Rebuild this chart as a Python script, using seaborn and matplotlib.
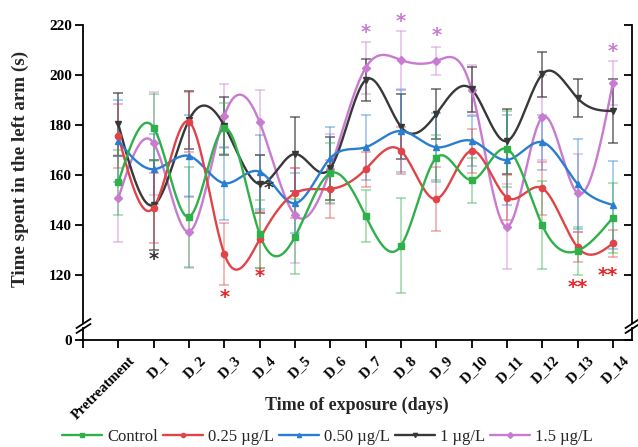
import numpy as np
import pandas as pd
import matplotlib
matplotlib.use("Agg")
import matplotlib.pyplot as plt
import seaborn as sns

# ---- data -------------------------------------------------------------
days = ["Pretreatment", "D_1", "D_2", "D_3", "D_4", "D_5", "D_6", "D_7",
        "D_8", "D_9", "D_10", "D_11", "D_12", "D_13", "D_14"]

control = [157.1, 178.9, 143.3, 178.7, 136.4, 135.3, 160.7, 143.6,
           131.7, 166.9, 158.0, 170.4, 139.9, 129.7, 143.0]
control_sem = [13.0, 13.4, 20.0, 10.2, 13.6, 15.0, 12.0, 10.5,
               19.0, 9.0, 9.0, 15.3, 17.6, 9.5, 14.0]

dose_025 = [175.6, 147.0, 181.3, 128.4, 134.3, 152.7, 154.4, 162.3,
            169.7, 150.4, 169.7, 151.0, 154.7, 131.1, 132.7]
dose_025_sem = [12.8, 14.0, 12.0, 12.4, 11.3, 10.0, 11.7, 7.0,
                9.4, 12.7, 8.7, 9.0, 10.6, 6.0, 5.4]

dose_050 = [173.6, 162.3, 167.6, 156.7, 161.3, 148.7, 166.7, 171.1,
            177.6, 171.1, 173.7, 166.0, 173.1, 156.4, 148.0]
dose_050_sem = [16.5, 14.0, 16.4, 14.6, 14.7, 12.0, 12.6, 13.0,
                16.4, 13.8, 10.0, 18.0, 11.0, 18.0, 17.6]

dose_1 = [180.3, 148.0, 182.0, 179.7, 156.4, 168.4, 162.7, 198.0,
          179.3, 184.4, 194.3, 173.6, 200.3, 190.7, 185.6]
dose_1_sem = [12.5, 18.0, 11.6, 11.7, 11.6, 14.7, 12.6, 8.5,
              13.0, 10.0, 9.0, 13.0, 9.0, 7.6, 12.7]

dose_15 = [150.7, 172.7, 137.3, 183.6, 181.1, 144.0, 162.3, 202.9,
           206.0, 205.6, 194.0, 139.3, 183.1, 152.7, 196.9]
dose_15_sem = [17.5, 20.6, 14.3, 12.7, 13.0, 19.0, 14.0, 10.4,
               11.6, 5.7, 10.0, 17.0, 17.0, 15.6, 8.8]

group_labels = ["Control", "0.25 µg/L", "0.50 µg/L", "1 µg/L", "1.5 µg/L"]

# significance marks: (day index, y position, text, group)
sig_marks = [
    (1, 126.0, "*", "1 µg/L"),
    (4.25, 154.5, "*", "1 µg/L"),
    (3, 111.0, "*", "0.25 µg/L"),
    (4, 119.5, "*", "0.25 µg/L"),
    (13, 115.0, "**", "0.25 µg/L"),
    (13.85, 120.0, "**", "0.25 µg/L"),
    (7, 217.0, "*", "1.5 µg/L"),
    (8, 221.5, "*", "1.5 µg/L"),
    (9, 216.0, "*", "1.5 µg/L"),
    (14, 209.5, "*", "1.5 µg/L"),
]

# ---- styling ------------------------------------------------------------
sns.set_theme(style="white")
plt.rcParams["font.family"] = ["Liberation Serif", "DejaVu Serif"]

styles = {
    "Control":   dict(color="#2fb04a", marker="s", ms=4.5),
    "0.25 µg/L": dict(color="#df4448", marker="o", ms=4.5),
    "0.50 µg/L": dict(color="#2a7ed2", marker="^", ms=4.5),
    "1 µg/L":    dict(color="#383838", marker="v", ms=4.5),
    "1.5 µg/L":  dict(color="#c87bd0", marker="D", ms=3.8),
}
err_alpha = {"Control": 0.45, "0.25 µg/L": 0.45, "0.50 µg/L": 0.45,
             "1 µg/L": 0.7, "1.5 µg/L": 0.45}
sig_colors = {"1 µg/L": "#333333", "0.25 µg/L": "#e8262a", "1.5 µg/L": "#c87bd0"}

series = {
    "Control": (control, control_sem),
    "0.25 µg/L": (dose_025, dose_025_sem),
    "0.50 µg/L": (dose_050, dose_050_sem),
    "1 µg/L": (dose_1, dose_1_sem),
    "1.5 µg/L": (dose_15, dose_15_sem),
}


def natural_spline(x, y, xs):
    """Natural cubic spline through (x, y), evaluated at xs."""
    x = np.asarray(x, float)
    y = np.asarray(y, float)
    n = len(x)
    h = np.diff(x)
    A = np.zeros((n, n))
    b = np.zeros(n)
    A[0, 0] = A[-1, -1] = 1.0
    for i in range(1, n - 1):
        A[i, i - 1] = h[i - 1]
        A[i, i] = 2 * (h[i - 1] + h[i])
        A[i, i + 1] = h[i]
        b[i] = 3 * ((y[i + 1] - y[i]) / h[i] - (y[i] - y[i - 1]) / h[i - 1])
    c = np.linalg.solve(A, b)
    bb = (np.diff(y) / h) - h * (2 * c[:-1] + c[1:]) / 3
    d = np.diff(c) / (3 * h)
    idx = np.clip(np.searchsorted(x, xs) - 1, 0, n - 2)
    dx = xs - x[idx]
    return y[idx] + bb[idx] * dx + c[idx] * dx ** 2 + d[idx] * dx ** 3


# ---- figure with broken y axis -----------------------------------------
fig = plt.figure(figsize=(6.38, 4.47), dpi=100)
W, H = 638.0, 447.0
left, right = 83 / W, 632 / W
ax = fig.add_axes([left, 1 - 322.5 / H, right - left, (322.5 - 25) / H])
axb = fig.add_axes([left, 1 - 340 / H, right - left, (340 - 328) / H])

xpos = np.arange(len(days))
xs = np.linspace(0, len(days) - 1, 700)

order = ["1.5 µg/L", "1 µg/L", "0.50 µg/L", "0.25 µg/L", "Control"]
for name in order:
    vals, sem = series[name]
    st = styles[name]
    ax.errorbar(xpos, vals, yerr=sem, fmt="none", ecolor=st["color"],
                alpha=err_alpha[name], elinewidth=1.2, capsize=3.5,
                capthick=1.2, zorder=2)
for name in order:
    vals, sem = series[name]
    st = styles[name]
    curve = pd.DataFrame({"x": xs, "y": natural_spline(xpos, vals, xs)})
    sns.lineplot(data=curve, x="x", y="y", ax=ax, color=st["color"],
                 lw=1.7, sort=False, estimator=None, zorder=3)
    ax.plot(xpos, vals, linestyle="none", marker=st["marker"],
            ms=st["ms"], color=st["color"], zorder=4)

for xi, yi, txt, grp in sig_marks:
    ax.text(xi, yi, txt, color=sig_colors[grp], ha="center", va="center",
            fontsize=14, fontweight="bold", family="DejaVu Sans")

xlim = (-1, 14.54)
ax.set_xlim(*xlim)
axb.set_xlim(*xlim)
ax.set_ylim(101, 220)
axb.set_ylim(0, 4.8)

ax.set_yticks([120, 140, 160, 180, 200, 220])
axb.set_yticks([0])
for a in (ax, axb):
    a.set_xlabel("")
    a.set_ylabel("")
    a.set_facecolor("none")
    for s in ("left", "right"):
        a.spines[s].set_color("black")
        a.spines[s].set_linewidth(1.3)
    a.spines["top"].set_visible(False)
    a.tick_params(axis="y", which="both", left=True, right=True,
                  labelleft=True, labelright=False, length=6, width=1.3,
                  direction="out", labelsize=11, pad=2, colors="black")
    for lbl in a.get_yticklabels():
        lbl.set_fontweight("bold")

ax.spines["bottom"].set_visible(False)
ax.tick_params(axis="x", bottom=False, labelbottom=False)

# right-hand axis ticks point inward
for a in (ax, axb):
    for t in a.yaxis.get_major_ticks():
        t.tick2line.set_marker(matplotlib.lines.TICKLEFT)
        t.tick2line.set_markersize(6)

axb.spines["bottom"].set_color("black")
axb.spines["bottom"].set_linewidth(1.3)
axb.set_xticks(np.arange(-1, len(days)))
axb.set_xticklabels([""] + days, rotation=45, ha="right", va="top",
                    rotation_mode="anchor", fontsize=10.5, fontweight="bold")
axb.tick_params(axis="x", bottom=True, length=6, width=1.3, direction="out",
                pad=4, colors="black")
for lbl in axb.get_xticklabels():
    lbl.set_transform(lbl.get_transform() +
                      matplotlib.transforms.ScaledTranslation(7 / 72, 0, fig.dpi_scale_trans))

# break marks on both vertical spines
brk = dict(marker=[(-1, -0.65), (1, 0.65)], markersize=11, linestyle="none",
           color="black", mec="black", mew=1.3, clip_on=False)
ax.plot([0, 1], [0, 0], transform=ax.transAxes, **brk)
axb.plot([0, 1], [1, 1], transform=axb.transAxes, **brk)

fig.text(20 / W, 1 - 169 / H, "Time spent in the left arm (s)", rotation=90,
         ha="center", va="center", fontsize=13.8, fontweight="bold")
fig.text(357 / W, 1 - 405 / H, "Time of exposure (days)", ha="center",
         va="center", fontsize=13, fontweight="bold")

handles = [matplotlib.lines.Line2D([], [], color=styles[g]["color"],
                                   marker=styles[g]["marker"], ms=3, lw=1.7)
           for g in group_labels]
fig.legend(handles, group_labels, loc="center", bbox_to_anchor=(0.513, 1 - 437 / H),
           ncol=5, frameon=False, fontsize=12, handlelength=2.4,
           handletextpad=0.3, columnspacing=0.3, borderaxespad=0)

fig.savefig("out.png", dpi=100)
